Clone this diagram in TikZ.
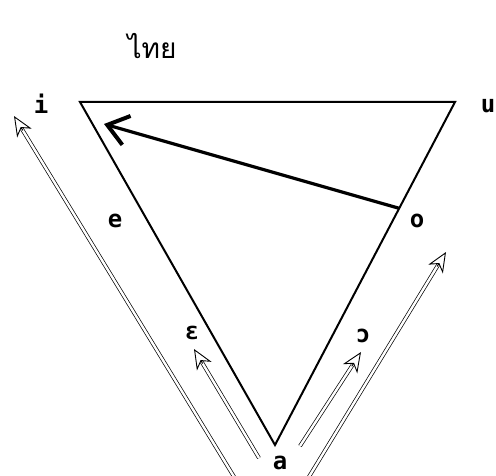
\documentclass[tikz,border=0pt]{standalone}
\usepackage{fontspec}
\setmonofont{DejaVu Sans Mono}
\newfontfamily\thaifont[Script=Thai]{Loma}
\usetikzlibrary{arrows.meta,calc}

\begin{document}
\begin{tikzpicture}[x=1pt,y=-1pt, every node/.style={font=\ttfamily\bfseries\fontsize{24}{26}\selectfont,inner sep=0pt},
side/.style={line width=2pt},
backmove/.style={line width=3.2pt,-{Straight Barb[length=20pt,width=30pt,line width=4pt]}},
shaft/.style={double,double distance=2.4pt,line width=0.7pt},
glidetip/.style={line width=0.9pt,-{Stealth[open,length=20pt,width=17pt,inset=6pt]}}]
\useasboundingbox (0,0) rectangle (496,476);
% corners of the vowel triangle
\coordinate (vi) at (80,102);
\coordinate (vu) at (455,102);
\coordinate (va) at (275,445);
\draw[side] (vi)--(vu)--(va)--cycle;
\node (title) at (152,46) {\thaifont\mdseries\fontsize{28}{30}\selectfont ไทย};
\node (li) at (41,104) {i};
\node (lu) at (488,106) {u};
\node (le) at (115,221) {e};
\node (lo) at (417,221) {o};
\node (leps) at (192,333) {ɛ};
\node (lop) at (363,336) {ɔ};
\node (la) at (280,463) {a};
% the move from o to i
\coordinate (ofrom) at ($(vu)!0.31!(va)$);
\coordinate (ito) at (104,124);
\draw[backmove] (ofrom)--(ito);
% double arrows from a
\coordinate (g1s) at (236,480);\coordinate (g1e) at (14,116);
\coordinate (g2s) at (259,458);\coordinate (g2e) at (194,349);
\coordinate (g3s) at (300,446);\coordinate (g3e) at (361,352);
\coordinate (g4s) at (307,480);\coordinate (g4e) at (446,252);
\foreach \s/\e in {g1s/g1e,g2s/g2e,g3s/g3e,g4s/g4e}{
  \draw[shaft] (\s)--($(\e)!15pt!(\s)$);
  \draw[glidetip] ($(\e)!17pt!(\s)$)--(\e);
}
\end{tikzpicture}
\end{document}
